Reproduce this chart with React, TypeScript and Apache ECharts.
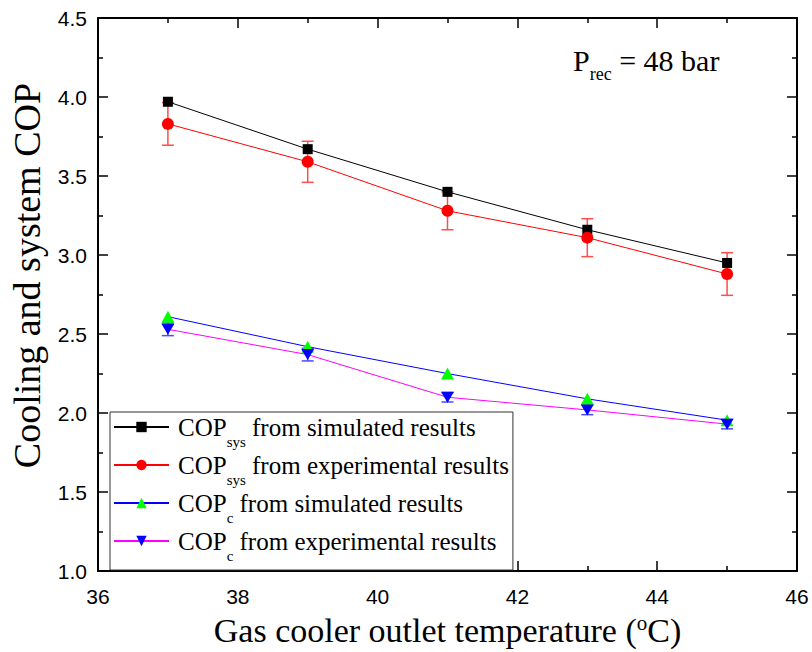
import React, { useEffect, useRef } from "react";
import * as echarts from "echarts";

// Gas cooler outlet temperature (°C)
const temps = [37, 39, 41, 43, 45];

// System COP
const copSysSim = [3.97, 3.67, 3.4, 3.16, 2.95];
const copSysExp = [3.83, 3.59, 3.28, 3.11, 2.88];
const copSysExpErr = [0.135, 0.13, 0.12, 0.12, 0.135];

// Cooling COP
const copCSim = [2.61, 2.42, 2.25, 2.09, 1.955];
const copCExp = [2.53, 2.37, 2.1, 2.02, 1.93];
const copCExpErr = [0.04, 0.04, 0.03, 0.03, 0.03];

// Legend entries: [main, subscript, rest]
const legendParts = [
  ["COP", "sys", " from simulated results"],
  ["COP", "sys", " from experimental results"],
  ["COP", "c", " from simulated results"],
  ["COP", "c", " from experimental results"],
];
const seriesNames = legendParts.map((p) => p.join(""));

const X_MIN = 36;
const X_MAX = 46;
const X_STEP = 2;
const Y_MIN = 1.0;
const Y_MAX = 4.5;
const Y_STEP = 0.5;

const SERIF = "'Liberation Serif', 'Times New Roman', serif";
const SANS = "'Liberation Sans', Arial, sans-serif";

const DOWN_TRIANGLE = "path://M0,0L20,0L10,17Z";

function errorBarSeries(values: number[], errs: number[], color: string) {
  return {
    type: "custom",
    z: 1,
    silent: true,
    xAxisIndex: 0,
    yAxisIndex: 0,
    encode: { x: 0, y: [1, 2] },
    data: temps.map((t, i) => [t, values[i] - errs[i], values[i] + errs[i]]),
    renderItem: (params: any, api: any) => {
      const x = api.value(0);
      const top = api.coord([x, api.value(2)]);
      const bot = api.coord([x, api.value(1)]);
      const hw = 6;
      const style = { stroke: color, lineWidth: 1.5 };
      return {
        type: "group",
        children: [
          { type: "line", shape: { x1: top[0], y1: top[1], x2: bot[0], y2: bot[1] }, style },
          { type: "line", shape: { x1: top[0] - hw, y1: top[1], x2: top[0] + hw, y2: top[1] }, style },
          { type: "line", shape: { x1: bot[0] - hw, y1: bot[1], x2: bot[0] + hw, y2: bot[1] }, style },
        ],
      };
    },
  };
}

function frameAxis(position: string, showLabels: boolean, isX: boolean) {
  return {
    type: "value",
    position,
    min: isX ? X_MIN : Y_MIN,
    max: isX ? X_MAX : Y_MAX,
    interval: isX ? X_STEP : Y_STEP,
    axisLine: { show: true, onZero: false, lineStyle: { color: "#000", width: 2 } },
    axisTick: { show: true, inside: true, length: 10, lineStyle: { color: "#000", width: 1.5 } },
    minorTick: { show: true, splitNumber: 2, length: 5, lineStyle: { color: "#000", width: 1.5 } },
    splitLine: { show: false },
    minorSplitLine: { show: false },
    axisLabel: {
      show: showLabels,
      color: "#000",
      fontFamily: SANS,
      fontSize: 21,
      margin: isX ? 15 : 11,
      formatter: isX ? (v: number) => String(v) : (v: number) => v.toFixed(1),
    },
  };
}

export default function App() {
  const ref = useRef<HTMLDivElement>(null);

  useEffect(() => {
    if (!ref.current) return;
    const chart = echarts.init(ref.current, undefined, { renderer: "svg" });

    const option: any = {
      animation: false,
      backgroundColor: "#fff",
      grid: { left: 97, top: 18, width: 700, height: 562, containLabel: false },
      xAxis: [
        {
          ...frameAxis("bottom", true, true),
          name: "{m|Gas cooler outlet temperature (}{sup|o}{m|C)}",
          nameLocation: "middle",
          nameGap: 37,
          nameTextStyle: {
            color: "#000",
            fontFamily: SERIF,
            fontSize: 34,
            rich: {
              m: { fontFamily: SERIF, fontSize: 34, lineHeight: 36, color: "#000" },
              sup: { fontFamily: SERIF, fontSize: 21, lineHeight: 23, verticalAlign: "top", color: "#000" },
            },
          },
        },
        frameAxis("top", false, true),
      ],
      yAxis: [
        {
          ...frameAxis("left", true, false),
          name: "Cooling and system COP",
          nameLocation: "middle",
          nameGap: 52,
          nameTextStyle: {
            color: "#000",
            fontFamily: SERIF,
            fontSize: 38,
            lineHeight: 38,
            padding: [0, 0, 0, 38],
          },
        },
        frameAxis("right", false, false),
      ],
      legend: {
        data: seriesNames,
        orient: "vertical",
        left: 110,
        top: 412,
        itemWidth: 55,
        itemHeight: 13,
        itemGap: 1,
        padding: [0, 4, 7, 3],
        borderColor: "#333",
        borderWidth: 1,
        backgroundColor: "#fff",
        selectedMode: false,
        formatter: (name: string) => {
          const p = legendParts[seriesNames.indexOf(name)];
          return `{m|${p[0]}}{s|${p[1]}}{m|${p[2]}}`;
        },
        textStyle: {
          color: "#000",
          fontFamily: SERIF,
          fontSize: 25,
          padding: [0, 0, 0, 4],
          rich: {
            m: { fontFamily: SERIF, fontSize: 25, lineHeight: 30, color: "#000" },
            s: {
              fontFamily: SERIF,
              fontSize: 15,
              lineHeight: 15,
              verticalAlign: "top",
              padding: [22, 0, 0, 0],
              color: "#000",
            },
          },
        },
      },
      graphic: [
        {
          type: "text",
          x: 573,
          y: 45,
          silent: true,
          style: {
            text: "{m|P}{s|rec}{m| = 48 bar}",
            align: "left",
            verticalAlign: "top",
            textAlign: "left",
            textVerticalAlign: "top",
            fill: "#000",
            fontFamily: SERIF,
            fontSize: 30,
            rich: {
              m: { fontFamily: SERIF, fontSize: 30, lineHeight: 30, verticalAlign: "top", fill: "#000" },
              s: {
                fontFamily: SERIF,
                fontSize: 18,
                lineHeight: 18,
                verticalAlign: "top",
                padding: [20, 0, 0, 0],
                fill: "#000",
              },
            },
          },
        },
      ],
      series: [
        errorBarSeries(copSysExp, copSysExpErr, "#ff4d4d"),
        errorBarSeries(copCExp, copCExpErr, "#4a4aff"),
        {
          name: seriesNames[0],
          type: "line",
          z: 2,
          data: temps.map((t, i) => [t, copSysSim[i]]),
          symbol: "rect",
          symbolSize: 10,
          lineStyle: { color: "#000", width: 1 },
          itemStyle: { color: "#000" },
        },
        {
          name: seriesNames[1],
          type: "line",
          z: 3,
          data: temps.map((t, i) => [t, copSysExp[i]]),
          symbol: "circle",
          symbolSize: 12,
          lineStyle: { color: "#ff0000", width: 1 },
          itemStyle: { color: "#ff0000" },
        },
        {
          name: seriesNames[2],
          type: "line",
          z: 2,
          data: temps.map((t, i) => [t, copCSim[i]]),
          symbol: "triangle",
          symbolSize: [13, 12],
          lineStyle: { color: "#0000ff", width: 1 },
          itemStyle: { color: "#00ff00" },
        },
        {
          name: seriesNames[3],
          type: "line",
          z: 3,
          data: temps.map((t, i) => [t, copCExp[i]]),
          symbol: DOWN_TRIANGLE,
          symbolSize: [13, 11],
          lineStyle: { color: "#ff00ff", width: 1 },
          itemStyle: { color: "#0000ff" },
        },
      ],
    };

    chart.setOption(option);
    return () => chart.dispose();
  }, []);

  return (
    <div
      ref={ref}
      style={{ position: "fixed", left: 0, top: 0, width: 812, height: 652, background: "#fff" }}
    />
  );
}
